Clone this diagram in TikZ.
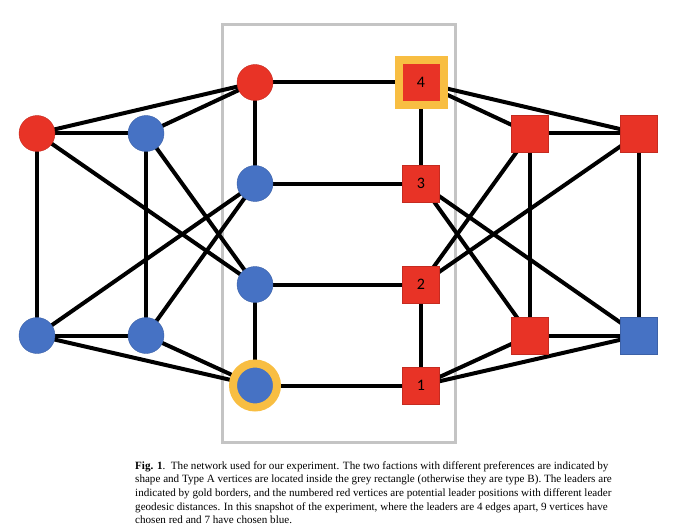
\documentclass[tikz,border=0pt]{standalone}
\usepackage{fontspec}
\setmainfont{Liberation Serif}
\newfontfamily\numfont{Carlito}
\usetikzlibrary{backgrounds}
\definecolor{vred}{RGB}{232, 51, 38}
\definecolor{vblue}{RGB}{70, 114, 196}
\definecolor{gold}{RGB}{248, 190, 66}
\definecolor{boxgrey}{RGB}{196, 196, 196}

\tikzset{
  redvert/.style={circle, fill=vred, draw=vred!85!black, line width=0.4pt, minimum size=36pt, inner sep=0pt},
  bluevert/.style={circle, fill=vblue, draw=vblue!85!black, line width=0.4pt, minimum size=36pt, inner sep=0pt},
  redsq/.style={rectangle, fill=vred, draw=vred!85!black, line width=0.4pt, minimum size=37pt, inner sep=0pt, font=\numfont\fontsize{16}{16}\selectfont},
  bluesq/.style={rectangle, fill=vblue, draw=vblue!85!black, line width=0.4pt, minimum size=37pt, inner sep=0pt},
  leadcirc/.style={circle, fill=vblue, draw=gold, line width=8pt, minimum size=44pt, inner sep=0pt},
  leadsq/.style={rectangle, fill=vred, draw=gold, line width=8pt, minimum size=45pt, inner sep=0pt, font=\numfont\fontsize{16}{16}\selectfont},
  edge/.style={black, line width=4pt},
}

\begin{document}
\begin{tikzpicture}[x=1pt, y=-1pt]
    \useasboundingbox (0,0) rectangle (680,532);

    % Type B vertices on the left (circles)
    \node[redvert]  (l1) at (37,133.5) {};
    \node[bluevert] (l2) at (146,133.5) {};
    \node[bluevert] (l3) at (37,335.5) {};
    \node[bluevert] (l4) at (146,335.5) {};

    % Type A circles inside the box
    \node[redvert]  (a1) at (255,82.5) {};
    \node[bluevert] (a2) at (255,183.5) {};
    \node[bluevert] (a3) at (255,284.5) {};
    \node[leadcirc] (a4) at (255,385.5) {};

    % Type A squares inside the box, numbered
    \node[leadsq] (s4) at (421,82.5) {4};
    \node[redsq]  (s3) at (421,183.5) {3};
    \node[redsq]  (s2) at (421,284.5) {2};
    \node[redsq]  (s1) at (421,385.5) {1};

    % Type B squares on the right
    \node[redsq]  (r1) at (530,133.5) {};
    \node[redsq]  (r2) at (639,133.5) {};
    \node[redsq]  (r3) at (530,335.5) {};
    \node[bluesq] (r4) at (639,335.5) {};

    \begin{pgfonlayer}{background}
        % Grey rectangle around the type A vertices
        \draw[boxgrey, line width=3pt] (222,25) rectangle (455,442);

        % Edges of the network
        \foreach \a/\b in {l1/l2, l1/a1, l2/a1, l1/l3, l2/l4, l1/a3, l2/a3, l3/a2, l4/a2,
                           l3/l4, l3/a4, l4/a4, a1/a2, a3/a4, a1/s4, a2/s3, a3/s2, a4/s1,
                           s4/s3, s2/s1, s4/r1, s4/r2, r1/r2, r1/r3, r2/r4, r3/r4,
                           s1/r3, s1/r4, s3/r3, s3/r4, s2/r1, s2/r2}
            \draw[edge] (\a.center) -- (\b.center);
    \end{pgfonlayer}

    % Caption
    \node[anchor=north west, align=left, inner sep=0pt, font=\fontsize{11.1}{13.7}\selectfont] (caption) at (135,461)
        {\textbf{Fig. 1}.\ \ The network used for our experiment. The two factions with different preferences are indicated by\\
         shape and Type A vertices are located inside the grey rectangle (otherwise they are type B). The leaders are\\
         indicated by gold borders, and the numbered red vertices are potential leader positions with different leader\\
         geodesic distances. In this snapshot of the experiment, where the leaders are 4 edges apart, 9 vertices have\\
         chosen red and 7 have chosen blue.};
\end{tikzpicture}
\end{document}
